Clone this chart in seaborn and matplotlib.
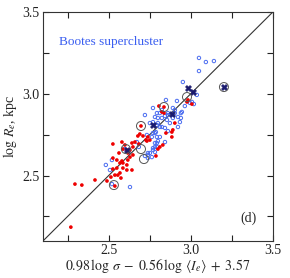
import matplotlib
matplotlib.use("Agg")
import matplotlib.pyplot as plt
import seaborn as sns
import pandas as pd
from matplotlib.ticker import MultipleLocator

# field / other galaxies (red filled dots)
red_x = [2.295, 2.337, 2.417, 2.490, 2.538, 2.270,
         2.526, 2.581, 2.587, 2.617, 2.630, 2.648, 2.684, 2.563, 2.526, 2.550,
         2.581, 2.587, 2.569, 2.617, 2.611, 2.630, 2.648, 2.526, 2.550, 2.587,
         2.611, 2.642, 2.569, 2.538, 2.514, 2.733, 2.751, 2.812, 2.830, 2.800,
         2.977, 3.007, 2.903, 2.885, 2.739, 2.709, 2.727, 2.690, 2.678, 2.660,
         2.642, 2.599, 2.611, 2.697, 2.788, 2.837, 2.824, 2.837, 2.983, 2.885,
         2.849, 2.891, 2.806, 2.556, 2.575]
red_y = [2.448, 2.442, 2.473, 2.467, 2.436, 2.185,
         2.693, 2.705, 2.662, 2.638, 2.656, 2.675, 2.693, 2.638, 2.607, 2.595,
         2.589, 2.577, 2.577, 2.595, 2.565, 2.613, 2.626, 2.540, 2.546, 2.546,
         2.534, 2.534, 2.516, 2.503, 2.491, 2.711, 2.717, 2.675, 2.687, 2.662,
         2.950, 2.937, 2.821, 2.766, 2.736, 2.742, 2.717, 2.754, 2.742, 2.705,
         2.699, 2.687, 2.656, 2.803, 2.620, 2.919, 2.889, 2.882, 2.962, 2.736,
         2.760, 2.779, 2.925, 2.503, 2.485]

# Bootes supercluster (blue open circles)
blue_x = [3.050, 3.092, 3.141, 3.050, 2.952, 3.037, 2.849, 2.916, 3.007, 3.019,
          2.964, 2.946, 2.824, 2.800, 2.861, 2.903, 2.922, 2.940, 2.855, 2.873,
          2.800, 2.824, 2.751, 2.733, 2.782, 2.922, 2.739, 2.770, 2.794, 2.782,
          2.800, 2.843, 2.520, 2.630, 2.672, 2.684, 2.721, 2.739, 2.751, 2.782,
          2.782, 2.508, 2.520, 2.721, 2.770, 2.794, 2.782, 2.812, 2.824, 2.843,
          2.861, 2.770, 2.794, 2.812, 2.843, 2.861, 2.788, 2.770, 2.763, 2.794,
          2.812, 2.794, 2.903, 2.891, 2.940, 2.995, 2.934, 2.891, 2.770, 2.763,
          2.739, 2.483, 2.599]
blue_y = [3.219, 3.194, 3.200, 3.139, 3.072, 2.993, 2.962, 2.956, 2.950, 2.937,
          2.925, 2.889, 2.901, 2.852, 2.882, 2.901, 2.858, 2.852, 2.840, 2.821,
          2.821, 2.797, 2.821, 2.748, 2.760, 2.797, 2.638, 2.656, 2.699, 2.675,
          2.711, 2.705, 2.448, 2.430, 2.705, 2.675, 2.620, 2.607, 2.638, 2.644,
          2.699, 2.534, 2.595, 2.870, 2.913, 2.882, 2.858, 2.882, 2.852, 2.864,
          2.870, 2.827, 2.809, 2.797, 2.791, 2.772, 2.766, 2.760, 2.736, 2.736,
          2.736, 2.675, 2.882, 2.913, 2.882, 2.944, 2.827, 2.852, 2.668, 2.613,
          2.626, 2.565, 2.662]

# dark cross markers
star_x = [2.983, 3.013, 3.202, 2.770, 2.885, 2.611]
star_y = [3.035, 3.011, 3.041, 2.809, 2.876, 2.656]

# encircled galaxies
ring_x = [2.837, 2.977, 2.697, 2.697, 2.715, 2.532, 3.202, 2.605]
ring_y = [2.919, 2.980, 2.803, 2.662, 2.601, 2.442, 3.041, 2.662]

sns.set_style("ticks")
plt.rcParams["font.family"] = ["Liberation Serif", "DejaVu Serif"]
plt.rcParams["mathtext.fontset"] = "stix"

fig = plt.figure(figsize=(2.90, 2.78), dpi=100)
ax = fig.add_axes([0.148, 0.133, 0.793, 0.824])

ax.axline((2.1, 2.1), slope=1, color="#333333", lw=0.8, zorder=1)

red = pd.DataFrame({"x": red_x, "y": red_y})
blue = pd.DataFrame({"x": blue_x, "y": blue_y})
star = pd.DataFrame({"x": star_x, "y": star_y})
ring = pd.DataFrame({"x": ring_x, "y": ring_y})

sns.scatterplot(data=blue, x="x", y="y", ax=ax, marker="o", s=6,
                facecolor="none", edgecolor="#4a6cf0", linewidth=0.7, zorder=2)
sns.scatterplot(data=red, x="x", y="y", ax=ax, marker="o", s=7,
                color="#ee0000", edgecolor="none", zorder=3)
sns.scatterplot(data=star, x="x", y="y", ax=ax, marker="X", s=20,
                color="#1a1a6e", edgecolor="#1a1a6e", linewidth=0.3, zorder=4)
sns.scatterplot(data=ring, x="x", y="y", ax=ax, marker="o", s=42,
                facecolor="none", edgecolor="#555555", linewidth=0.7, zorder=5)

ax.set_xlim(2.1, 3.5)
ax.set_ylim(2.1, 3.5)
ax.xaxis.set_major_locator(MultipleLocator(0.5))
ax.yaxis.set_major_locator(MultipleLocator(0.5))
ax.xaxis.set_minor_locator(MultipleLocator(0.25))
ax.yaxis.set_minor_locator(MultipleLocator(0.25))
ax.tick_params(which="both", direction="in", top=True, right=True,
               labelsize=10, width=0.8, colors="#222222", pad=2.5)
ax.tick_params(which="major", length=4)
ax.tick_params(which="minor", length=4)
for s in ax.spines.values():
    s.set_color("#333333")
    s.set_linewidth(0.8)

ax.set_xlabel(r"$0.98\,\log\,\sigma\;-\;0.56\,\log\,\langle I_e\rangle\;+\;3.57$",
              fontsize=10, labelpad=0)
ax.set_ylabel(r"$\log\,R_e$, kpc", fontsize=10, labelpad=2)

ax.text(0.07, 0.87, "Bootes supercluster", transform=ax.transAxes,
        color="#3a5ef0", fontsize=9.5, va="center")
ax.text(0.93, 0.1, "(d)", transform=ax.transAxes, fontsize=10,
        ha="right", va="center")

fig.savefig("out.png", dpi=100)
